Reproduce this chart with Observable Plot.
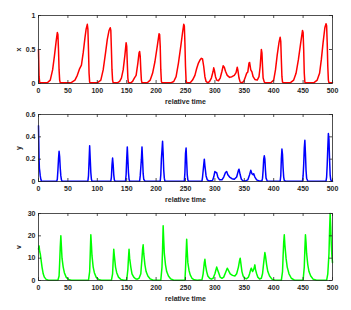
<!DOCTYPE html>
<html>
<head>
<meta charset="utf-8">
<script src="https://cdn.jsdelivr.net/npm/d3@7"></script>
<script src="https://cdn.jsdelivr.net/npm/@observablehq/plot@0.6"></script>
<style>
  html, body { margin: 0; padding: 0; background: #fff; }
  #chart svg { display: block; }
</style>
</head>
<body>
<div id="chart"></div>
<script>
// ---- data ----
const xTicks = [0, 50, 100, 150, 200, 250, 300, 350, 400, 450, 500];

const xT = [0,1,2,3,15,20,24,27,30,32,33,34,35,36,37,
  55,62,66,70,73,76,79,81,83,84,85,86,87,88,
  100,106,110,114,117,120,122,123,124,125,126,127,
  134,138,141,144,147,149,150,151,152,153,
  157,160,163,166,169,171,172,173,174,175,176,
  185,190,194,198,202,205,206,207,208,209,210,
  225,230,234,238,242,245,247,248,249,250,251,252,
  258,262,266,269,272,275,277,279,281,283,285,288,
  291,294,297,298,299,301,303,306,309,312,314,316,318,321,325,329,333,336,338,339,341,343,346,
  349,352,354,356,358,359,361,363,365,368,372,375,377,379,380,381,382,384,386,
  395,400,403,406,409,411,412,413,414,415,417,
  428,434,438,442,446,449,450,451,452,453,454,
  468,474,478,481,484,487,489,490,491,492,493,494,500];
const xV = [0.5,0.1,0.02,0.01,0.01,0.05,0.2,0.4,0.62,0.75,0.72,0.5,0.2,0.05,0.01,
  0.01,0.05,0.12,0.22,0.27,0.45,0.67,0.8,0.87,0.8,0.5,0.15,0.02,0.01,
  0.01,0.05,0.2,0.45,0.65,0.78,0.82,0.78,0.5,0.2,0.05,0.01,
  0.01,0.03,0.08,0.2,0.42,0.6,0.55,0.3,0.08,0.01,
  0.01,0.03,0.08,0.12,0.3,0.45,0.47,0.4,0.2,0.05,0.01,
  0.01,0.05,0.15,0.32,0.55,0.73,0.72,0.55,0.2,0.03,0.01,
  0.01,0.03,0.1,0.3,0.55,0.75,0.87,0.85,0.6,0.25,0.05,0.01,
  0.01,0.05,0.12,0.22,0.3,0.35,0.37,0.36,0.25,0.1,0.03,0.01,
  0.03,0.08,0.18,0.23,0.2,0.1,0.05,0.04,0.08,0.18,0.26,0.24,0.18,0.12,0.09,0.1,0.12,0.16,0.24,0.2,0.08,0.02,0.01,
  0.03,0.1,0.15,0.17,0.3,0.31,0.2,0.17,0.1,0.06,0.05,0.1,0.25,0.5,0.45,0.25,0.08,0.02,0.01,
  0.01,0.05,0.2,0.42,0.6,0.68,0.62,0.35,0.1,0.02,0.01,
  0.01,0.05,0.15,0.35,0.6,0.78,0.75,0.5,0.15,0.02,0.01,
  0.01,0.05,0.15,0.35,0.6,0.82,0.88,0.85,0.6,0.25,0.05,0.01,0.01];

const yT = [0,0.5,1,1.5,2,3,4,5,
  31,32,33,34,35,36,37,38,39,40,
  84,85,86,87,88,89,90,91,
  123,124,125,126,127,128,129,130,
  148,149,150,151,152,153,154,155,
  172,173,175,176,177,178,179,181,
  207,208,209,211,212,213,214,215,
  248,249,250,251,252,253,254,255,
  278,279,281,282,283,285,287,290,
  296,298,300,301,303,305,308,312,315,318,320,322,325,329,333,337,340,341,343,345,348,352,356,359,361,363,365,366,368,371,375,380,381,382,383,384,385,386,387,389,
  411,412,413,414,415,416,417,418,420,
  449,450,451,452,453,454,455,456,458,
  489,490,491,492,493,494,495,496,497,499,500];
const yV = [0.5,0.35,0.2,0.12,0.1,0.05,0.02,0.003,
  0.003,0.02,0.1,0.2,0.27,0.22,0.12,0.05,0.015,0.003,
  0.003,0.05,0.18,0.32,0.2,0.08,0.02,0.003,
  0.003,0.04,0.15,0.21,0.15,0.06,0.015,0.003,
  0.003,0.06,0.2,0.31,0.2,0.08,0.02,0.003,
  0.003,0.05,0.2,0.31,0.2,0.07,0.02,0.003,
  0.003,0.06,0.2,0.36,0.25,0.1,0.03,0.003,
  0.003,0.08,0.25,0.3,0.18,0.06,0.015,0.003,
  0.003,0.04,0.15,0.2,0.14,0.05,0.015,0.005,
  0.01,0.04,0.09,0.08,0.08,0.04,0.015,0.015,0.04,0.08,0.09,0.06,0.04,0.025,0.02,0.04,0.1,0.11,0.06,0.02,0.005,0.005,0.015,0.06,0.1,0.07,0.06,0.07,0.04,0.015,0.005,0.005,0.03,0.1,0.2,0.23,0.2,0.1,0.03,0.005,
  0.003,0.05,0.2,0.29,0.24,0.12,0.04,0.01,0.003,
  0.003,0.05,0.15,0.3,0.37,0.25,0.1,0.03,0.003,
  0.003,0.04,0.15,0.3,0.43,0.38,0.2,0.06,0.015,0.003,0.002];

const vT = [0,1,2,3,4,6,8,10,13,17,
  33,35,36,37,38,39,40,42,44,47,51,56,
  85,87,88,89,90,91,93,95,98,102,107,
  124,126,127,128,129,131,133,136,140,145,
  150,152,153,154,155,157,159,162,165,168,171,
  174,176,177,178,179,181,183,186,190,195,
  208,210,211,212,213,214,216,218,221,225,230,
  249,250,251,252,253,254,256,258,261,265,270,
  278,280,282,283,284,286,288,291,294,297,300,303,305,307,309,312,315,318,321,323,326,330,334,337,340,342,343,344,346,348,351,354,357,359,361,362,364,366,368,369,371,373,376,379,381,383,385,386,388,390,393,397,402,
  413,415,416,417,418,419,421,423,426,430,436,
  450,452,453,454,455,456,458,460,463,467,473,
  490,492,494,495,496,497,498,499,500];
const vV = [14,15.5,13,12,10,6,3,1.5,0.5,0.1,
  0.1,2,8,15,20,15,10,6,3.5,1.5,0.5,0.1,
  0.1,4,12,20.5,16,11,6,3.5,1.5,0.5,0.1,
  0.1,3,9,14,11,6,3.5,1.5,0.5,0.1,
  0.2,5,10,14,10,6,3,1.5,0.8,0.6,1,
  3,10,14,16,12,7,4,2,0.7,0.1,
  0.1,6,14,24.5,18,12,7,4,2,0.7,0.1,
  0.1,5,12,18.5,13,8,4.5,2.5,1,0.3,0.1,
  0.3,3,8,9.5,7,4,2,1,0.6,1,3,6,4.5,3,1.5,1,1.5,3.5,5.5,4.5,3,2.3,2,3,6,9,10,8,4,2,1,0.8,1.5,3,5,5.5,4,5,7,5,3,1.5,0.7,1,3,8,12.5,11,7,4,2,0.6,0.1,
  0.1,4,11,17,20.5,16,10,6,3,1,0.1,
  0.1,6,14,20.5,17,12,7,4,2,0.6,0.1,
  0.1,3,12,22,30,24,16,11,8];

// ---- drawing ----
const W = 351, ML = 38, MR = 19;
const FONT = "Liberation Sans, Arial, Helvetica, sans-serif";
const INK = "#262626";
const fmt = d3.format("~g");

function panel({t, v, color, label, yTicks, yDomain, height, marginTop, marginBottom}) {
  const data = t.map((d, i) => ({t: d, v: v[i]}));
  const innerH = height - marginTop - marginBottom;
  const innerW = W - ML - MR;
  const tl = 3;
  return Plot.plot({
    width: W, height, marginLeft: ML, marginRight: MR, marginTop, marginBottom,
    style: {fontFamily: FONT, fontSize: "7px", color: INK, background: "#fff"},
    x: {domain: [0, 500]},
    y: {domain: yDomain},
    marks: [
      Plot.line(data, {x: "t", y: "v", stroke: color, strokeWidth: 1.5}),
      Plot.frame({stroke: INK, strokeWidth: 0.8}),
      Plot.tickX(xTicks, {x: d => d, stroke: INK, strokeWidth: 0.8, insetTop: innerH - tl}),
      Plot.tickX(xTicks, {x: d => d, stroke: INK, strokeWidth: 0.8, insetBottom: innerH - tl}),
      Plot.tickY(yTicks, {y: d => d, stroke: INK, strokeWidth: 0.8, insetRight: innerW - tl}),
      Plot.tickY(yTicks, {y: d => d, stroke: INK, strokeWidth: 0.8, insetLeft: innerW - tl}),
      Plot.axisX({ticks: xTicks, tickSize: 0, tickPadding: 5, tickFormat: fmt, label: "relative time",
        labelAnchor: "center", labelArrow: "none", labelOffset: 20, fontWeight: "bold"}),
      Plot.axisY({ticks: yTicks, tickSize: 0, tickPadding: 3, tickFormat: fmt, label, labelAnchor: "center",
        labelArrow: "none", labelOffset: 22, fontWeight: "bold"})
    ]
  });
}

const chart = document.getElementById("chart");
chart.append(panel({t: xT, v: xV, color: "#ff0000", label: "x", yTicks: [0, 0.5, 1], yDomain: [0, 1],
  height: 104, marginTop: 15, marginBottom: 21}));
chart.append(panel({t: yT, v: yV, color: "#0000ff", label: "y", yTicks: [0, 0.2, 0.4, 0.6], yDomain: [0, 0.6],
  height: 100, marginTop: 10, marginBottom: 23}));
chart.append(panel({t: vT, v: vV, color: "#00ff00", label: "v", yTicks: [0, 10, 20, 30], yDomain: [0, 30],
  height: 106, marginTop: 9, marginBottom: 30}));
</script>
</body>
</html>
